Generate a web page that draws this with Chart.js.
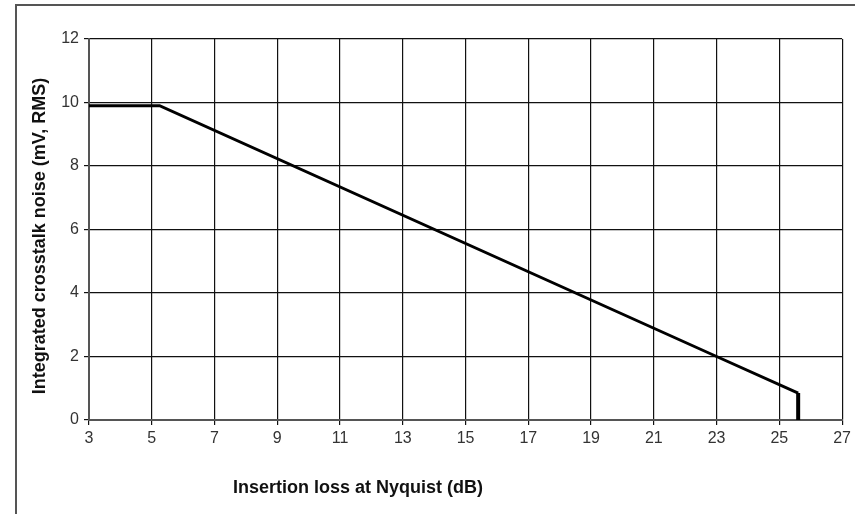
<!DOCTYPE html>
<html>
<head>
<meta charset="utf-8">
<script src="https://cdn.jsdelivr.net/npm/chart.js@4"></script>
<style>
  html, body { margin: 0; padding: 0; background: #fff; }
  #wrap { width: 855px; height: 514px; }
</style>
</head>
<body>
<div id="wrap"><canvas id="xtalkChart" width="855" height="514"></canvas></div>
<script>
// limit line
const lossDb = [3, 5.25, 23, 25.6];
const noiseMv = [9.9, 9.9, 2.0, 0.85];
// the drop to zero at the end
const dropDb = [25.6, 25.6];
const dropMv = [0.85, 0];

const xTitle = "Insertion loss at Nyquist (dB)";
const yTitle = "Integrated crosstalk noise (mV, RMS)";

const tickFont = { family: "'Liberation Sans Narrow', 'Liberation Sans', sans-serif", size: 16 };
const titleFont = "bold 18px 'Liberation Sans', Arial, sans-serif";

// outer frame and both axis titles, drawn on the canvas
const framePlugin = {
    id: "frame",
    beforeDraw(chart) {
        const c = chart.ctx;
        c.save();
        c.fillStyle = "#fff";
        c.fillRect(0, 0, chart.width, chart.height);
        c.strokeStyle = "#555";
        c.lineWidth = 2;
        c.beginPath();
        c.moveTo(16, chart.height);
        c.lineTo(16, 5);
        c.lineTo(chart.width, 5);
        c.stroke();
        c.restore();
    },
    afterDraw(chart) {
        const c = chart.ctx;
        c.save();
        c.fillStyle = "#111";
        c.font = titleFont;
        c.textAlign = "center";
        c.textBaseline = "middle";
        c.fillText(xTitle, 358, 488);
        c.translate(40, 236);
        c.rotate(-Math.PI / 2);
        c.fillText(yTitle, 0, 0);
        c.restore();
    },
};

const ctx = document.getElementById("xtalkChart").getContext("2d");

const chart = new Chart(ctx, {
    type: "line",
    data: {
        datasets: [
            {
                data: lossDb.map((x, i) => ({ x: x, y: noiseMv[i] })),
                borderColor: "#000",
                borderWidth: 3,
                pointRadius: 0,
                fill: false,
                tension: 0,
            },
            {
                data: dropDb.map((x, i) => ({ x: x, y: dropMv[i] })),
                borderColor: "#000",
                borderWidth: 4,
                pointRadius: 0,
                fill: false,
                tension: 0,
            },
        ],
    },
    options: {
        responsive: false,
        animation: false,
        layout: {
            padding: { left: 0, right: 11, top: 39, bottom: 0 },
        },
        plugins: {
            legend: { display: false },
            tooltip: { enabled: false },
        },
        scales: {
            x: {
                type: "linear",
                min: 3,
                max: 27,
                ticks: {
                    stepSize: 2,
                    color: "#333",
                    font: tickFont,
                    padding: 4,
                    maxRotation: 0,
                },
                grid: {
                    color: "#111",
                    lineWidth: 1.2,
                    tickLength: 5,
                    tickColor: "#111",
                },
                border: { color: "#555", width: 2 },
                afterFit(scale) { scale.height = 94; },
            },
            y: {
                min: 0,
                max: 12,
                ticks: {
                    stepSize: 2,
                    color: "#333",
                    font: tickFont,
                    padding: 5,
                },
                grid: {
                    color: "#111",
                    lineWidth: 1.2,
                    tickLength: 5,
                    tickColor: "#111",
                },
                border: { color: "#555", width: 2 },
                afterFit(scale) { scale.width = 89; },
            },
        },
    },
    plugins: [framePlugin],
});
</script>
</body>
</html>
